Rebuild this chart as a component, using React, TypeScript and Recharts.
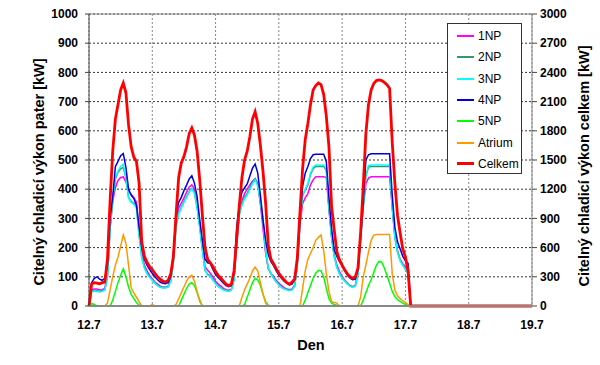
import { CartesianGrid, Line, LineChart, ReferenceLine, XAxis, YAxis } from "recharts";

// x axis: hours from 12.7 00:00, one label per day
const DAY_LABELS = ["12.7", "13.7", "14.7", "15.7", "16.7", "17.7", "18.7", "19.7"];
const DAY_TICKS = [0, 24, 48, 72, 96, 120, 144, 168];
const LEFT_TICKS = [0, 100, 200, 300, 400, 500, 600, 700, 800, 900, 1000];
const RIGHT_TICKS = [0, 300, 600, 900, 1200, 1500, 1800, 2100, 2400, 2700, 3000];

// hourly samples 0..122, then one closing point at 168 h (19.7)
const HOURS = [...Array.from({ length: 123 }, (_, i) => i), 168];

// floors [kW], left axis
const NP1 = [
  0, 55, 58, 58, 55, 56, 60, 110, 270, 360,
  405, 430, 440, 442, 425, 395, 382, 372, 355, 260,
  180, 140, 120, 105, 93, 82, 75, 68, 64, 64,
  68, 90, 160, 290, 335, 352, 370, 390, 408, 415,
  400, 350, 280, 200, 135, 122, 112, 100, 85, 75,
  68, 60, 56, 54, 58, 95, 210, 320, 360, 385,
  400, 415, 428, 435, 420, 350, 265, 180, 128, 112,
  102, 88, 78, 70, 63, 58, 56, 58, 72, 145,
  280, 350, 370, 385, 415, 432, 443, 443, 443, 443,
  440, 330, 240, 175, 140, 118, 100, 88, 78, 70,
  66, 70, 115, 240, 340, 420, 438, 443, 443, 443,
  443, 443, 443, 443, 443, 340, 240, 190, 160, 145,
  135, 120, 0, 0,
];
const NP2 = [
  0, 50, 53, 52, 50, 52, 56, 100, 265, 365,
  435, 458, 470, 475, 440, 372, 358, 352, 340, 245,
  168, 132, 112, 99, 89, 79, 71, 65, 63, 63,
  66, 86, 150, 275, 318, 338, 358, 375, 392, 403,
  388, 338, 272, 192, 122, 108, 104, 90, 78, 68,
  61, 56, 53, 51, 56, 90, 225, 312, 348, 372,
  386, 405, 424, 436, 415, 355, 290, 188, 128, 110,
  96, 83, 73, 65, 59, 56, 53, 56, 69, 140,
  285, 378, 398, 415, 450, 470, 478, 478, 478, 478,
  465, 338, 235, 170, 133, 111, 96, 86, 76, 69,
  65, 69, 110, 228, 338, 445, 476, 478, 478, 478,
  478, 478, 478, 478, 478, 338, 235, 185, 156, 140,
  126, 113, 0, 0,
];
const NP3 = [
  0, 48, 52, 50, 48, 50, 55, 100, 270, 370,
  440, 462, 478, 485, 440, 370, 355, 348, 335, 240,
  165, 130, 110, 98, 88, 78, 70, 64, 62, 62,
  65, 85, 150, 280, 315, 335, 355, 372, 390, 402,
  385, 335, 270, 190, 125, 105, 102, 88, 76, 66,
  60, 55, 52, 50, 55, 90, 230, 315, 345, 368,
  380, 400, 418, 432, 410, 360, 295, 190, 130, 112,
  95, 82, 72, 64, 58, 55, 52, 55, 68, 140,
  290, 380, 400, 418, 455, 475, 483, 483, 483, 483,
  470, 340, 235, 170, 132, 110, 95, 85, 75, 68,
  64, 68, 110, 230, 340, 450, 480, 483, 483, 483,
  483, 483, 483, 483, 483, 340, 235, 185, 155, 140,
  125, 112, 0, 0,
];
const NP4 = [
  0, 80, 95, 100, 92, 88, 95, 140, 300, 374,
  477, 495, 515, 522, 475, 400, 380, 368, 345, 270,
  200, 160, 140, 125, 112, 100, 90, 82, 78, 76,
  80, 100, 180, 310, 355, 372, 395, 414, 435, 446,
  420, 375, 295, 225, 160, 148, 145, 125, 108, 98,
  88, 78, 70, 66, 70, 110, 270, 345, 390, 405,
  418, 445, 472, 486, 455, 380, 295, 225, 175, 152,
  138, 120, 105, 95, 85, 78, 72, 75, 90, 160,
  300, 409, 455, 478, 505, 518, 520, 520, 520, 520,
  495, 370, 265, 192, 170, 152, 138, 120, 105, 95,
  90, 92, 125, 240, 352, 500, 518, 521, 521, 521,
  521, 521, 521, 521, 521, 380, 270, 220, 195, 170,
  155, 146, 0, 0,
];
const NP5 = [
  0, 8, 5, 0, 0, 0, 0, 0, 0, 20,
  50, 80, 105, 127, 100, 65, 40, 25, 12, 3,
  0, 0, 0, 0, 0, 0, 0, 0, 0, 0,
  0, 0, 0, 0, 0, 20, 40, 60, 75, 80,
  70, 45, 20, 0, 0, 0, 0, 0, 0, 0,
  0, 0, 0, 0, 0, 0, 0, 0, 0, 5,
  30, 55, 80, 95, 90, 70, 40, 15, 2, 0,
  0, 0, 0, 0, 0, 0, 0, 0, 0, 0,
  0, 0, 20, 45, 70, 95, 112, 122, 120, 100,
  60, 25, 10, 5, 3, 0, 0, 0, 0, 0,
  0, 0, 0, 0, 20, 45, 70, 90, 115, 140,
  153, 150, 130, 105, 78, 50, 32, 22, 16, 10,
  5, 2, 0, 0,
];
const ATRIUM = [
  0, 0, 0, 0, 0, 0, 0, 10, 55, 100,
  140, 168, 205, 243, 215, 140, 62, 45, 30, 15,
  0, 0, 0, 0, 5, 0, 0, 0, 0, 0,
  0, 0, 0, 5, 25, 45, 65, 85, 100, 105,
  85, 50, 15, 0, 0, 0, 0, 0, 0, 0,
  0, 0, 0, 0, 0, 0, 0, 0, 30, 55,
  75, 95, 120, 133, 120, 80, 40, 10, 0, 0,
  0, 0, 0, 0, 0, 0, 0, 0, 0, 0,
  0, 60, 120, 160, 180, 200, 225, 235, 243, 190,
  110, 50, 15, 12, 10, 0, 0, 0, 0, 0,
  0, 0, 0, 30, 100, 140, 185, 225, 243, 245,
  245, 245, 245, 245, 245, 110, 55, 35, 25, 18,
  12, 5, 0, 0,
];
// total [kW], right axis
const CELKEM = [
  0, 225, 240, 234, 228, 240, 246, 480, 1080, 1590,
  1920, 2070, 2220, 2290, 2190, 1860, 1635, 1530, 1485, 1260,
  660, 510, 450, 405, 375, 336, 300, 276, 255, 246,
  264, 330, 510, 930, 1320, 1470, 1536, 1635, 1770, 1830,
  1755, 1590, 1290, 930, 600, 480, 444, 405, 354, 315,
  285, 255, 225, 210, 225, 360, 690, 1035, 1320, 1500,
  1590, 1740, 1920, 1995, 1875, 1650, 1380, 1050, 615, 480,
  435, 384, 336, 300, 270, 240, 225, 246, 276, 495,
  960, 1410, 1710, 1875, 2070, 2220, 2265, 2290, 2274, 2175,
  1950, 1635, 1020, 780, 555, 474, 420, 369, 330, 300,
  285, 300, 390, 750, 1227, 1770, 2070, 2220, 2286, 2316,
  2322, 2316, 2298, 2274, 2235, 1680, 1260, 930, 750, 585,
  504, 360, 0, 0,
];

const SERIES = [
  { key: "np1", name: "1NP", color: "#ff00ff", values: NP1, axis: "left", width: 1.5 },
  { key: "np2", name: "2NP", color: "#339966", values: NP2, axis: "left", width: 1.5 },
  { key: "np3", name: "3NP", color: "#00ffff", values: NP3, axis: "left", width: 1.5 },
  { key: "np4", name: "4NP", color: "#0000dd", values: NP4, axis: "left", width: 1.5 },
  { key: "np5", name: "5NP", color: "#00ff00", values: NP5, axis: "left", width: 1.5 },
  { key: "atrium", name: "Atrium", color: "#ff9900", values: ATRIUM, axis: "left", width: 1.5 },
  { key: "celkem", name: "Celkem", color: "#ff0000", values: CELKEM, axis: "right", width: 2.8 },
];

const data = HOURS.map((h, i) => {
  const row: Record<string, number> = { h };
  SERIES.forEach((s) => (row[s.key] = s.values[i]));
  return row;
});

const FONT = "'Liberation Sans', Arial, sans-serif";
const TICK = { fill: "#000", fontSize: 12, fontWeight: 700, fontFamily: FONT };

function Legend() {
  return (
    <div
      style={{
        position: "absolute",
        left: 447,
        top: 23,
        width: 75,
        height: 151,
        boxSizing: "border-box",
        border: "1px solid #333",
        background: "#fff",
        fontFamily: FONT,
        fontSize: 12,
      }}
    >
      {SERIES.map((s, i) => (
        <div key={s.key} style={{ position: "absolute", left: 9, top: 3 + i * 21.3, height: 18, display: "flex", alignItems: "center" }}>
          <span style={{ display: "inline-block", width: 17, height: s.key === "celkem" ? 3 : 2, background: s.color }} />
          <span style={{ marginLeft: 4 }}>{s.name}</span>
        </div>
      ))}
    </div>
  );
}

export default function App() {
  return (
    <div style={{ position: "absolute", left: 0, top: 0, width: 600, height: 365, background: "#fff" }}>
      <LineChart width={600} height={365} data={data} margin={{ top: 14, right: 20, bottom: 19, left: 39 }}>
        <CartesianGrid yAxisId="left" vertical={false} stroke="#333" strokeDasharray="2 2" />
        <CartesianGrid yAxisId="left" horizontal={false} stroke="#888" strokeDasharray="2 2" />
        <ReferenceLine yAxisId="left" y={1000} stroke="#888" />
        <XAxis
          dataKey="h"
          type="number"
          domain={[0, 168]}
          ticks={DAY_TICKS}
          tickFormatter={(v: number) => DAY_LABELS[v / 24]}
          tick={TICK}
          tickLine={false}
          tickSize={0}
          tickMargin={14}
          axisLine={{ stroke: "#888", strokeWidth: 2 }}
          height={40}
          label={() => (
            <text x={311} y={350} textAnchor="middle" fontFamily={FONT} fontSize={14.5} fontWeight={700}>
              Den
            </text>
          )}
        />
        <YAxis
          yAxisId="left"
          domain={[0, 1000]}
          ticks={LEFT_TICKS}
          width={50}
          tick={TICK}
          tickSize={4}
          tickMargin={7}
          axisLine={{ stroke: "#444" }}
          tickLine={{ stroke: "#444" }}
          label={() => (
            <text x={39} y={172} transform="rotate(-90 39 172)" textAnchor="middle" dominantBaseline="central" fontFamily={FONT} fontSize={14.5} fontWeight={700}>
              Citelný chladicí výkon pater [kW]
            </text>
          )}
        />
        <YAxis
          yAxisId="right"
          orientation="right"
          domain={[0, 3000]}
          ticks={RIGHT_TICKS}
          width={48}
          tick={TICK}
          tickSize={5}
          tickMargin={3}
          axisLine={{ stroke: "#888" }}
          tickLine={{ stroke: "#444" }}
          label={() => (
            <text x={584} y={166} transform="rotate(-90 584 166)" textAnchor="middle" dominantBaseline="central" fontFamily={FONT} fontSize={14.5} fontWeight={700}>
              Citelný chladicí výkon celkem [kW]
            </text>
          )}
        />
        {SERIES.map((s) => (
          <Line
            key={s.key}
            yAxisId={s.axis}
            dataKey={s.key}
            name={s.name}
            type="linear"
            stroke={s.color}
            strokeWidth={s.width}
            dot={false}
            isAnimationActive={false}
          />
        ))}
      </LineChart>
      <Legend />
    </div>
  );
}
